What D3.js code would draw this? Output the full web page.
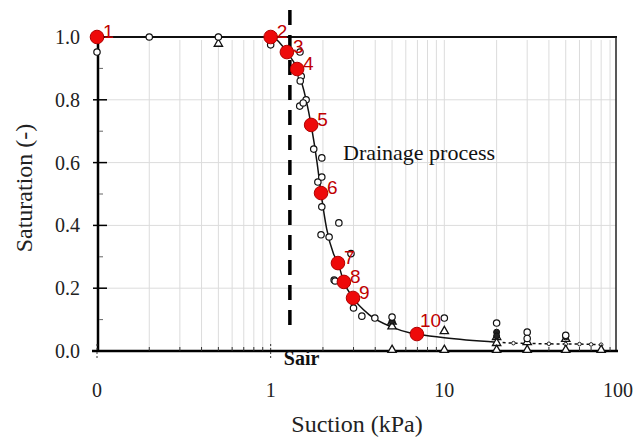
<!DOCTYPE html>
<html><head><meta charset="utf-8">
<script src="https://cdn.jsdelivr.net/npm/d3@7/dist/d3.min.js"></script>
<style>
html,body{margin:0;padding:0;background:#fff;}
svg{display:block;}
</style></head>
<body>
<svg id="chart" width="644" height="437"></svg>
<script>
// ---- data ----
const redSuction = [0.1, 1.0, 1.24, 1.42, 1.71, 1.95, 2.44, 2.64, 2.98, 6.95];
const redSat     = [1.0, 1.0, 0.952, 0.898, 0.72, 0.503, 0.28, 0.22, 0.169, 0.054];
const redLabels  = ["1","2","3","4","5","6","7","8","9","10"];

const circSuction = [0.1, 0.2, 0.5, 1.0, 1.475, 1.50, 1.48, 1.60, 1.47, 1.54, 1.77, 1.97, 1.87, 1.97, 1.97, 2.47, 1.95, 2.17, 2.32, 2.35, 2.9, 3.0, 3.35, 3.98, 5, 10, 20, 30, 30, 50];
const circSat     = [0.952, 1.0, 1.0, 0.975, 0.952, 0.875, 0.86, 0.80, 0.78, 0.79, 0.643, 0.615, 0.538, 0.554, 0.459, 0.408, 0.37, 0.363, 0.226, 0.223, 0.31, 0.137, 0.111, 0.105, 0.108, 0.105, 0.089, 0.06, 0.04, 0.05];

const triSuction = [0.5, 5, 5, 5, 10, 10, 20, 20, 20, 30, 30, 50, 50, 80];
const triSat     = [0.975, 0.09, 0.075, 0, 0.06, 0, 0.041, 0.022, 0, 0.025, 0, 0.035, 0, 0];

const darkSuction = [0.5, 5, 20, 20, 50];
const darkSat     = [1.0, 0.095, 0.06, 0.048, 0.045];

const fitSuction = [0.1, 0.2, 0.5, 1.0, 1.24, 1.42, 1.6, 1.71, 1.85, 1.95, 2.1, 2.3, 2.44, 2.64, 2.98, 3.7, 5, 6.3, 6.95, 10, 20];
const fitSat     = [1, 1, 1, 1, 0.952, 0.898, 0.80, 0.72, 0.60, 0.503, 0.39, 0.31, 0.28, 0.22, 0.169, 0.115, 0.076, 0.058, 0.054, 0.042, 0.028];

const dotSuction = [20, 25, 30, 40, 50, 60, 70, 80];
const dotSat     = [0.028, 0.025, 0.024, 0.023, 0.022, 0.022, 0.021, 0.02];

const sairSuction = 1.29;

const xTickValues = [0.1, 1, 10, 100];
const xTickLabels = ["0", "1", "10", "100"];
const yTickValues = [0, 0.2, 0.4, 0.6, 0.8, 1.0];

// ---- layout ----
const svg = d3.select("#chart");
const L = 97, R = 618, T = 37, B = 351;
const x = d3.scaleLog().domain([0.1, 100]).range([L, R]);
const y = d3.scaleLinear().domain([0, 1]).range([B, T]);

const serif = "'Liberation Serif','Times New Roman',serif";
const sans = "'Liberation Sans',Arial,sans-serif";

// minor log values
const minors = [];
[0.1, 1, 10].forEach(d => { for (let k = 2; k <= 9; k++) minors.push(d * k); });
const allV = minors.concat([1, 10]);

// grid
const grid = svg.append("g");
grid.selectAll("line.v").data(allV).enter().append("line")
  .attr("x1", d => x(d)).attr("x2", d => x(d))
  .attr("y1", T + 3).attr("y2", B)
  .attr("stroke", "#dcdcdc").attr("stroke-width", 1);
grid.selectAll("line.h").data([0.2, 0.4, 0.6, 0.8]).enter().append("line")
  .attr("x1", L).attr("x2", R - 2)
  .attr("y1", d => y(d)).attr("y2", d => y(d))
  .attr("stroke", "#dcdcdc").attr("stroke-width", 1);

// frame: top and right
svg.append("line").attr("x1", L).attr("x2", R - 1).attr("y1", T).attr("y2", T)
  .attr("stroke", "#111").attr("stroke-width", 2);
svg.append("line").attr("x1", R - 2).attr("x2", R - 2).attr("y1", T).attr("y2", B)
  .attr("stroke", "#222").attr("stroke-width", 1.5);

// left axis
svg.append("line").attr("x1", x(0.1) + 1).attr("x2", x(0.1) + 1).attr("y1", T).attr("y2", B)
  .attr("stroke", "#000").attr("stroke-width", 2.5);
// bottom axis
svg.append("line").attr("x1", L - 5).attr("x2", R).attr("y1", B).attr("y2", B)
  .attr("stroke", "#000").attr("stroke-width", 2.5);

// y ticks
svg.selectAll("line.yt").data([0.2, 0.4, 0.6, 0.8]).enter().append("line")
  .attr("x1", L - 4).attr("x2", L + 10).attr("y1", d => y(d)).attr("y2", d => y(d))
  .attr("stroke", "#000").attr("stroke-width", 1.5);
svg.selectAll("line.ymt").data([0.1, 0.3, 0.5, 0.7, 0.9]).enter().append("line")
  .attr("x1", L + 2).attr("x2", L + 6).attr("y1", d => y(d)).attr("y2", d => y(d))
  .attr("stroke", "#666").attr("stroke-width", 1);
svg.selectAll("text.yl").data(yTickValues).enter().append("text")
  .attr("x", 80).attr("y", d => y(d) + 7)
  .attr("text-anchor", "end")
  .attr("font-family", serif).attr("font-size", 20).attr("fill", "#222")
  .text(d => d.toFixed(1));

// x ticks
svg.selectAll("line.xmt").data(minors).enter().append("line")
  .attr("x1", d => x(d)).attr("x2", d => x(d)).attr("y1", B).attr("y2", B - 4)
  .attr("stroke", "#333").attr("stroke-width", 1);
svg.selectAll("line.xt").data([0.1, 1]).enter().append("line")
  .attr("x1", d => x(d)).attr("x2", d => x(d)).attr("y1", B - 7).attr("y2", B + 7)
  .attr("stroke", "#333").attr("stroke-width", 1).attr("stroke-dasharray", "2,2");
svg.selectAll("text.xl").data(xTickValues).enter().append("text")
  .attr("x", d => x(d)).attr("y", 397)
  .attr("text-anchor", "middle")
  .attr("font-family", serif).attr("font-size", 20).attr("fill", "#222")
  .text((d, i) => xTickLabels[i]);

// axis titles
svg.append("text").attr("x", 357).attr("y", 432).attr("text-anchor", "middle")
  .attr("font-family", serif).attr("font-size", 24).attr("fill", "#222")
  .text("Suction (kPa)");
svg.append("text").attr("transform", "translate(32,188) rotate(-90)")
  .attr("text-anchor", "middle")
  .attr("font-family", serif).attr("font-size", 24).attr("fill", "#222")
  .text("Saturation (-)");

// annotation
svg.append("text").attr("x", 343).attr("y", 160)
  .attr("font-family", serif).attr("font-size", 22).attr("fill", "#111")
  .text("Drainage process");

// Sair dashed line
svg.append("line").attr("x1", x(sairSuction)).attr("x2", x(sairSuction))
  .attr("y1", 10).attr("y2", 333)
  .attr("stroke", "#000").attr("stroke-width", 3.5).attr("stroke-dasharray", "15,10");
svg.append("text").attr("x", x(sairSuction) - 6).attr("y", 365)
  .attr("font-family", serif).attr("font-weight", "bold").attr("font-size", 20).attr("fill", "#111")
  .text("Sair");

// fitted curve
const line = d3.line().x(d => x(d[0])).y(d => y(d[1])).curve(d3.curveMonotoneX);
svg.append("path").datum(fitSuction.map((d, i) => [d, fitSat[i]]))
  .attr("d", line).attr("fill", "none").attr("stroke", "#111").attr("stroke-width", 1.5);
svg.append("path").datum(dotSuction.map((d, i) => [d, dotSat[i]]))
  .attr("d", line).attr("fill", "none").attr("stroke", "#111").attr("stroke-width", 1.5)
  .attr("stroke-dasharray", "3,3");
svg.selectAll("circle.dot").data(dotSuction).enter().append("circle")
  .attr("cx", d => x(d)).attr("cy", (d, i) => y(dotSat[i]))
  .attr("r", 1.8).attr("fill", "#fff").attr("stroke", "#222").attr("stroke-width", 1);

// triangles
const tri = d3.symbol().type(d3.symbolTriangle).size(30);
svg.selectAll("path.tri").data(triSuction).enter().append("path")
  .attr("d", tri)
  .attr("transform", (d, i) => `translate(${x(d)},${y(triSat[i]) - 1})`)
  .attr("fill", "#fff").attr("stroke", "#111").attr("stroke-width", 1.3);

// dark filled markers
svg.selectAll("circle.dark").data(darkSuction).enter().append("circle")
  .attr("cx", d => x(d)).attr("cy", (d, i) => y(darkSat[i]))
  .attr("r", 3).attr("fill", "#222").attr("stroke", "#111").attr("stroke-width", 1);

// open circles
svg.selectAll("circle.open").data(circSuction).enter().append("circle")
  .attr("cx", d => x(d)).attr("cy", (d, i) => y(circSat[i]))
  .attr("r", 3.2).attr("fill", "#fff").attr("stroke", "#111").attr("stroke-width", 1.2);

// red points
svg.selectAll("circle.red").data(redSuction).enter().append("circle")
  .attr("cx", d => x(d)).attr("cy", (d, i) => y(redSat[i]))
  .attr("r", 6.8).attr("fill", "#ee0a0a").attr("stroke", "#b00000").attr("stroke-width", 1);
svg.selectAll("text.rl").data(redSuction).enter().append("text")
  .attr("x", d => x(d) + (d > 5 ? 3 : 6))
  .attr("y", (d, i) => y(redSat[i]) + (d > 5 ? -7 : 1))
  .attr("font-family", sans).attr("font-size", 19).attr("fill", "#c00000")
  .text((d, i) => redLabels[i]);
</script>
</body></html>
